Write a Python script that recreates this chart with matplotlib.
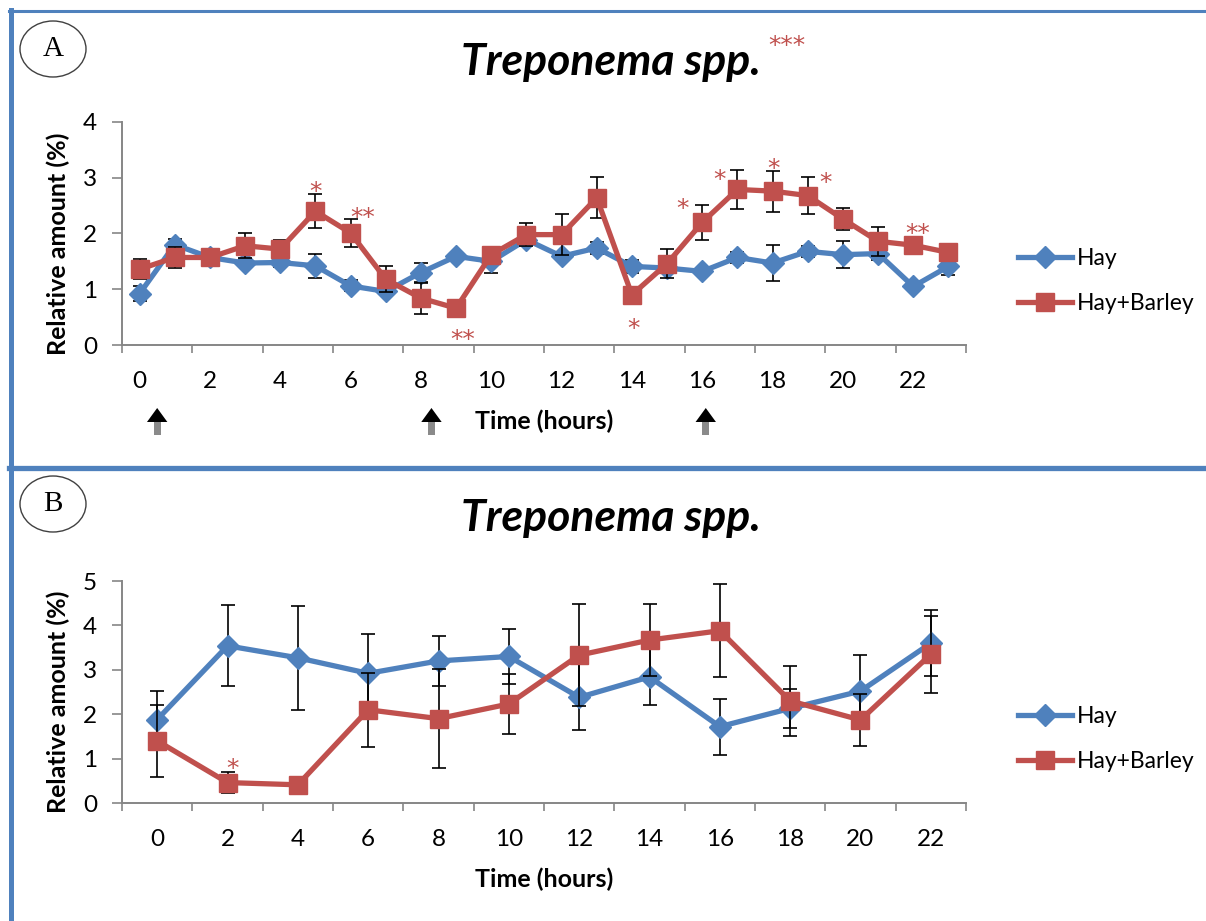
import matplotlib
matplotlib.use("Agg")
import matplotlib.pyplot as plt
import numpy as np
from matplotlib.patches import Ellipse, Rectangle, Polygon
from matplotlib.lines import Line2D
from matplotlib.transforms import blended_transform_factory

plt.rcParams['font.family'] = ['Lato', 'DejaVu Sans']

# panel A: hourly sampling
hours_a = np.arange(24)
hay_a = [0.92, 1.80, 1.57, 1.47, 1.48, 1.42, 1.06, 0.96, 1.30, 1.59, 1.50, 1.89,
         1.59, 1.74, 1.41, 1.38, 1.32, 1.57, 1.47, 1.68, 1.62, 1.64, 1.05, 1.41]
hay_a_err = [0.13, 0.10, 0.10, 0.05, 0.08, 0.21, 0.10, 0.05, 0.17, 0.05, 0.20, 0.10,
             0.07, 0.10, 0.12, 0.06, 0.05, 0.10, 0.32, 0.10, 0.24, 0.12, 0.05, 0.15]
barley_a = [1.36, 1.57, 1.57, 1.78, 1.72, 2.40, 2.01, 1.18, 0.84, 0.66, 1.62, 1.98,
            1.98, 2.64, 0.90, 1.46, 2.20, 2.79, 2.76, 2.68, 2.26, 1.86, 1.79, 1.66]
barley_a_err = [0.18, 0.18, 0.10, 0.22, 0.16, 0.30, 0.25, 0.23, 0.28, 0.02, 0.10, 0.20,
                0.37, 0.37, 0.02, 0.26, 0.32, 0.35, 0.37, 0.33, 0.20, 0.26, 0.15, 0.02]
# significance marks: (hour, level, text)
stars_a = [(5.0, 2.92, '*'), (6.34, 2.46, '**'), (9.18, 0.26, '**'), (14.05, 0.46, '*'),
           (15.43, 2.61, '*'), (16.49, 3.13, '*'), (18.03, 3.34, '*'), (19.5, 3.08, '*'),
           (22.12, 2.17, '**')]
feed_times = [0.5, 8.3, 16.1]

# panel B: two-hourly sampling
hours_b = np.arange(0, 24, 2)
hay_b = [1.88, 3.54, 3.27, 2.92, 3.20, 3.30, 2.38, 2.84, 1.72, 2.13, 2.52, 3.60]
hay_b_err = [0.65, 0.91, 1.17, 0.88, 0.57, 0.63, 0.74, 0.63, 0.63, 0.43, 0.81, 0.75]
barley_b = [1.40, 0.46, 0.41, 2.10, 1.90, 2.23, 3.33, 3.67, 3.88, 2.30, 1.87, 3.35]
barley_b_err = [0.81, 0.24, 0.03, 0.83, 1.12, 0.68, 1.15, 0.81, 1.05, 0.78, 0.58, 0.87]
stars_b = [(2.13, 0.98, '*')]

blue = '#4F81BD'
red = '#C0504D'
grey = '#868686'
W, H = 1206, 921

fig = plt.figure(figsize=(W / 100, H / 100), dpi=100)


def fx(px):
    return px / W


def fy(py):
    return 1 - py / H


def draw_panel(ax, hours, hay, hay_err, barley, barley_err, stars, width, ymax):
    ax.errorbar(hours, hay, yerr=hay_err, fmt='none', ecolor='black',
                elinewidth=1.2, capsize=5, capthick=1.2, zorder=2)
    ax.plot(hours, hay, color=blue, lw=3.8, marker='D', ms=11, label='Hay', zorder=3)
    ax.errorbar(hours, barley, yerr=barley_err, fmt='none', ecolor='black',
                elinewidth=1.2, capsize=5, capthick=1.2, zorder=4)
    ax.plot(hours, barley, color=red, lw=3.8, marker='s', ms=13,
            label='Hay+Barley', zorder=5)
    for x, y, s in stars:
        ax.annotate(s, (x, y), xytext=(0, -7), textcoords='offset points',
                    ha='center', va='center', color=red, fontsize=18,
                    family='DejaVu Sans', zorder=6, annotation_clip=False)

    half = width / 2
    ax.set_xlim(hours[0] - half, hours[-1] + half)
    ax.set_ylim(0, ymax)
    ax.set_xticks(np.arange(hours[0] - half, hours[-1] + half + 0.01, 2))
    ax.set_xticklabels([])
    ax.set_xticks(np.arange(0, 23, 2), minor=True)
    ax.set_xticklabels([str(h) for h in range(0, 23, 2)], minor=True)
    ax.tick_params(axis='x', which='major', length=6, width=1.2, color=grey)
    ax.tick_params(axis='x', which='minor', length=0, pad=19, labelsize=17.5)
    ax.set_yticks(range(ymax + 1))
    ax.tick_params(axis='y', length=7, width=1.2, color=grey, pad=11, labelsize=17.5)
    for side in ('top', 'right'):
        ax.spines[side].set_visible(False)
    for side in ('left', 'bottom'):
        ax.spines[side].set_color(grey)
        ax.spines[side].set_linewidth(1.4)
    ax.set_xlabel('Time (hours)', fontsize=18, fontweight='bold')
    ax.set_ylabel('Relative amount (%)', fontsize=18, fontweight='bold')
    ax.yaxis.set_label_coords(-0.062, 0.455)


ax_a = fig.add_axes([fx(122), fy(345), fx(844), 223 / H])
draw_panel(ax_a, hours_a, hay_a, hay_a_err, barley_a, barley_a_err, stars_a, 1, 4)
ax_a.xaxis.set_label_coords(0.5, -0.288)

ax_b = fig.add_axes([fx(122), fy(803), fx(844), 222 / H])
draw_panel(ax_b, hours_b, hay_b, hay_b_err, barley_b, barley_b_err, stars_b, 2, 5)
ax_b.xaxis.set_label_coords(0.5, -0.29)

# legends
for ax, yc in ((ax_a, 281), (ax_b, 739)):
    ax.legend(loc='center left', bbox_to_anchor=(fx(1007), fy(yc)),
              bbox_transform=fig.transFigure, frameon=False, borderpad=0,
              handlelength=2.35, handletextpad=0.2, labelspacing=1.05, fontsize=16.5)

# feeding arrows below panel A
tr = blended_transform_factory(ax_a.transData, fig.transFigure)
for t in feed_times:
    stem = Rectangle((t - 0.1, fy(435)), 0.2, fy(422) - fy(435), transform=tr,
                     color='#8a8a8a', lw=0, clip_on=False)
    head = Polygon([(t - 0.29, fy(422)), (t + 0.29, fy(422)), (t, fy(408))],
                   closed=True, transform=tr, color='black', lw=0, clip_on=False)
    ax_a.add_patch(stem)
    ax_a.add_patch(head)

# titles
for yc in (62, 518):
    fig.text(fx(611), fy(yc), 'Treponema spp.', fontsize=32, fontweight='bold',
             style='italic', ha='center', va='center')
fig.text(fx(787), fy(46), '***', color=red, fontsize=18, family='DejaVu Sans',
         ha='center', va='center')

# panel letters in ellipses
for letter, yc in (('A', 49), ('B', 504)):
    fig.add_artist(Ellipse((fx(53), fy(yc)), fx(66), 56 / H, transform=fig.transFigure,
                           fill=False, ec='#404040', lw=1.0))
    fig.text(fx(53), fy(yc), letter, family='Liberation Serif', fontsize=21,
             ha='center', va='center')

# panel frame lines
fig.add_artist(Line2D([fx(9), 1], [fy(11.5)] * 2, transform=fig.transFigure,
                      color=blue, lw=2.2))
fig.add_artist(Line2D([fx(10.5)] * 2, [fy(10), 0], transform=fig.transFigure,
                      color=blue, lw=3.6))
fig.add_artist(Line2D([fx(9), 1], [fy(468)] * 2, transform=fig.transFigure,
                      color=blue, lw=3.8))

fig.savefig('out.png', dpi=100)
